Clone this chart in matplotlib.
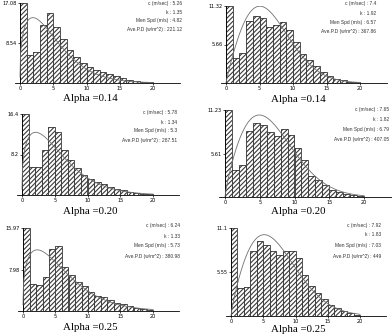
import numpy as np
import matplotlib
matplotlib.use("Agg")
import matplotlib.pyplot as plt
from matplotlib.path import Path
from matplotlib.collections import LineCollection

# wind speed bins (m/s), left edges
bins = list(range(20))

# frequency (%) per 1 m/s bin
freq_a14_l = [17.08, 5.96, 6.67, 12.4, 14.9, 12.06, 9.33, 7.03, 5.6, 4.3,
              3.44, 2.87, 2.37, 1.87, 1.43, 1.0, 0.7, 0.5, 0.3, 0.15]
freq_a14_r = [11.32, 3.72, 4.46, 9.11, 9.8, 9.56, 8.23, 8.48, 8.92, 7.84,
              6.03, 4.31, 3.33, 2.45, 1.62, 0.98, 0.59, 0.39, 0.2, 0.1]
freq_a20_l = [16.4, 5.6, 5.6, 9.1, 13.7, 12.7, 9.2, 7.1, 5.4, 4.05,
              3.2, 2.7, 2.2, 1.7, 1.3, 1.0, 0.7, 0.5, 0.3, 0.2]
freq_a20_r = [11.23, 3.5, 4.16, 8.57, 9.5, 9.3, 8.44, 7.9, 8.74, 8.0,
              6.3, 4.8, 2.74, 2.23, 1.6, 0.94, 0.6, 0.43, 0.26, 0.17]
freq_a25_l = [15.97, 5.2, 5.0, 6.5, 11.9, 12.55, 8.5, 6.9, 5.6, 4.8,
              3.7, 2.85, 2.6, 2.07, 1.55, 1.3, 0.9, 0.65, 0.4, 0.26]
freq_a25_r = [11.1, 3.5, 3.7, 8.15, 9.4, 9.0, 8.15, 7.7, 8.15, 8.15,
              7.3, 5.2, 3.8, 2.95, 2.1, 1.4, 0.97, 0.63, 0.34, 0.17]

# Weibull parameters and stats shown on each panel
c_vals = [5.26, 7.4, 5.78, 7.65, 6.24, 7.92]
k_vals = [1.35, 1.92, 1.34, 1.82, 1.33, 1.83]
mean_spd = ["4.82", "6.57", "5.3", "6.79", "5.73", "7.03"]
power_d = ["221.12", "367.86", "287.51", "407.05", "380.98", "449"]
ymax_labels = ["17.08", "11.32", "16.4", "11.23", "15.97", "11.1"]
ymid_labels = ["8.54", "5.66", "8.2", "5.61", "7.98", "5.55"]
titles = ["Alpha =0.14", "Alpha =0.14", "Alpha =0.20",
          "Alpha =0.20", "Alpha =0.25", "Alpha =0.25"]
freqs = [freq_a14_l, freq_a14_r, freq_a20_l, freq_a20_r, freq_a25_l, freq_a25_r]

W, H = 392, 336
fig = plt.figure(figsize=(W / 100, H / 100), dpi=100)

# layout in pixels: (x of 0, x of 20, y of 0, y of max)
geom = [(20, 153, 83, 3), (226, 360, 83, 6),
        (22, 153, 195, 114), (225, 364, 197, 110),
        (23, 153, 311, 228), (231, 360, 316, 228)]
title_pos = [(90, 98), (298, 99), (90, 212), (298, 212), (90, 327), (298, 329)]
text_right = [182, 376, 177, 389, 180, 381]
text_y = [[3, 12, 20.5, 29.5], [4, 13.3, 22.3, 31.7], [112.7, 122.3, 130.7, 140.7],
          [109.5, 119.3, 129.3, 139.3], [226, 236, 246, 256.7], [225, 235, 246, 256.7]]


def add_hatch(ax, bars, wpx, hpx, step=4.6):
    # diagonal hatch lines clipped to the bar outlines
    verts, codes = [], []
    for b in bars:
        x, y, w, h = b.get_x(), b.get_y(), b.get_width(), b.get_height()
        verts += [(x, y), (x + w, y), (x + w, y + h), (x, y + h), (x, y)]
        codes += [Path.MOVETO, Path.LINETO, Path.LINETO, Path.LINETO, Path.CLOSEPOLY]
    clip = Path(verts, codes)
    segs = []
    for xs in np.arange(-hpx, wpx, step):
        segs.append([(xs / wpx, 0), ((xs + hpx) / wpx, 1)])
    lc = LineCollection(segs, colors='#3a3a3a', linewidths=0.8,
                        transform=ax.transAxes, zorder=1.5)
    ax.add_collection(lc, autolim=False)
    lc.set_clip_path(clip, ax.transData)


for i in range(6):
    x0, x20, yb, yt = geom[i]
    ppu = (x20 - x0) / 20.0
    left = x0 - 0.8 * ppu
    right = x0 + 24 * ppu
    ax = fig.add_axes([left / W, 1 - yb / H, (right - left) / W, (yb - yt) / H])
    f = freqs[i]
    bars = ax.bar(bins, f, width=1, align='edge', color='white',
                  edgecolor='#333333', linewidth=0.6, zorder=1)
    ax.set_xlim(-0.8, 24)
    ax.set_ylim(0, f[0])
    add_hatch(ax, bars, right - left, yb - yt)
    v = np.linspace(0.001, 20, 300)
    c, k = c_vals[i], k_vals[i]
    pdf = 100 * (k / c) * (v / c) ** (k - 1) * np.exp(-(v / c) ** k)
    ax.plot(v, pdf, color='#707070', linewidth=0.6, zorder=3)
    ax.set_facecolor('none')
    for s in ['top', 'right']:
        ax.spines[s].set_visible(False)
    ax.spines['left'].set_position(('data', 0))
    ax.spines['left'].set_linewidth(0.6)
    ax.spines['bottom'].set_linewidth(0.6)
    ax.set_xticks([0, 5, 10, 15, 20])
    ax.set_xticklabels(["0", "5", "10", "15", "20"])
    ax.set_yticks([f[0] / 2, f[0]])
    ax.set_yticklabels([ymid_labels[i], ymax_labels[i]])
    ax.tick_params(labelsize=3.6, length=1.5, width=0.5, pad=1)

    tx, ty = title_pos[i]
    fig.text(tx / W, 1 - ty / H, titles[i], ha='center', va='center',
             family='Liberation Serif', fontsize=7.8)
    lines = ["c (m/sec) : %s" % c_vals[i], "k : %s" % k_vals[i],
             "Men Spd (m/s) : %s" % mean_spd[i],
             "Ave.P.D (w/m^2) : %s" % power_d[i]]
    for j, s in enumerate(lines):
        fig.text(text_right[i] / W, 1 - text_y[i][j] / H, s, ha='right', va='center',
                 family='Liberation Sans', fontsize=3.5, color='#333333')

fig.savefig("out.png", dpi=100)
